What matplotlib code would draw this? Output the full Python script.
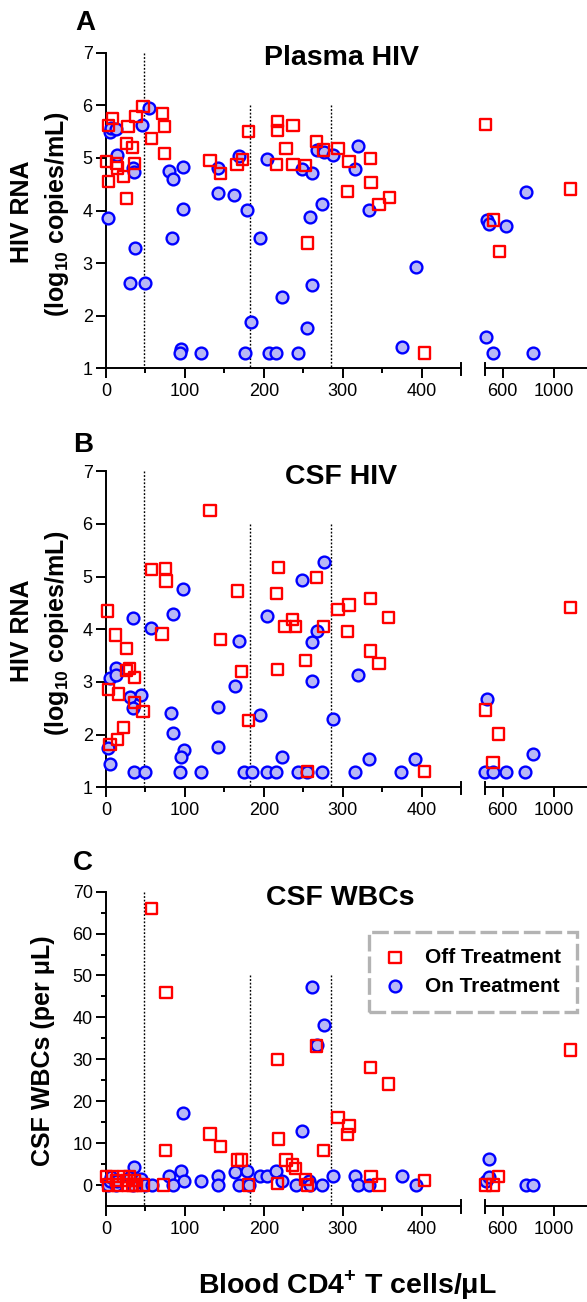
import matplotlib.pyplot as plt
import numpy as np
from matplotlib.ticker import NullLocator

plt.rcParams["font.family"] = ["Liberation Sans", "DejaVu Sans"]
plt.rcParams["mathtext.fontset"] = "custom"
plt.rcParams["mathtext.rm"] = "Liberation Sans"
plt.rcParams["mathtext.bf"] = "Liberation Sans:bold"

# A - plasma HIV RNA (log10 copies/mL) vs blood CD4
plasma_off_cd4 = [0.5, 3, 3, 8, 13, 15, 22, 26, 26, 28, 34, 36, 38, 47, 58, 72, 74, 74,
                  132, 145, 166, 173, 181, 217, 217, 228, 216, 237, 237, 253, 267, 276,
                  294, 308, 335, 306, 336, 346, 359, 255, 404, 506, 546, 579, 1190]
plasma_off_rna = [4.93, 5.62, 4.55, 5.75, 4.90, 4.81, 4.64, 5.28, 4.23, 5.59, 5.20, 4.90,
                  5.78, 5.97, 5.37, 5.85, 5.59, 5.09, 4.95, 4.71, 4.87, 4.97, 5.50, 5.69,
                  5.52, 5.18, 4.87, 5.61, 4.87, 4.85, 5.31, 5.15, 5.18, 4.93, 4.99, 4.36,
                  4.53, 4.12, 4.25, 3.38, 1.29, 5.64, 3.82, 3.22, 4.41]
plasma_on_cd4 = [2.5, 5, 6, 13, 14, 30, 34, 36, 37, 45, 50, 55, 80, 85, 84, 98, 98, 95, 94,
                 121, 142, 142, 162, 169, 179, 176, 184, 195, 204, 206, 216, 223, 243, 248,
                 261, 267, 276, 288, 319, 315, 274, 258, 333, 261, 255, 375, 393, 506, 546,
                 811, 512, 524, 618, 756]
plasma_on_rna = [3.85, 5.50, 5.56, 5.55, 5.06, 2.63, 4.80, 4.73, 3.28, 5.63, 2.63, 5.94,
                 4.76, 4.60, 3.47, 4.83, 4.02, 1.36, 1.30, 1.30, 4.80, 4.34, 4.30, 5.04,
                 4.01, 1.30, 1.89, 3.47, 4.97, 1.30, 1.30, 2.35, 1.30, 4.78, 4.71, 5.15,
                 5.12, 5.06, 5.23, 4.78, 4.12, 3.87, 4.01, 2.58, 1.76, 1.41, 2.93, 1.59,
                 1.30, 1.30, 3.81, 3.74, 3.71, 4.35]

# B - CSF HIV RNA (log10 copies/mL)
csf_off_cd4 = [2, 12, 26, 26, 30, 36, 3, 16, 36, 47, 22, 15, 5, 58, 75, 76, 71, 132, 145,
               167, 172, 181, 219, 216, 217, 227, 236, 240, 267, 276, 253, 294, 308, 335,
               358, 306, 335, 346, 255, 404, 504, 576, 544, 1190]
csf_off_rna = [4.35, 3.89, 3.63, 3.22, 3.25, 3.09, 2.86, 2.77, 2.61, 2.44, 2.14, 1.91,
               1.82, 5.14, 5.16, 4.92, 3.91, 6.25, 3.81, 4.73, 3.20, 2.27, 5.18, 4.68,
               3.24, 4.05, 4.18, 4.05, 4.99, 4.06, 3.41, 4.38, 4.46, 4.59, 4.23, 3.96,
               3.59, 3.35, 1.30, 1.30, 2.47, 2.01, 1.47, 4.42]
csf_on_cd4 = [3, 5, 5, 13, 13, 30, 34, 34, 36, 44, 50, 57, 85, 98, 82, 85, 99, 95, 94, 121,
              142, 142, 163, 169, 175, 185, 195, 204, 204, 216, 223, 243, 248, 255, 261,
              261, 268, 274, 276, 288, 315, 319, 333, 374, 392, 500, 512, 546, 618, 753, 811]
csf_on_rna = [1.74, 1.44, 3.07, 3.26, 3.13, 2.72, 4.21, 2.50, 1.29, 2.75, 1.29, 4.02, 4.29,
              4.77, 2.42, 2.04, 1.71, 1.57, 1.29, 1.29, 2.52, 1.77, 2.92, 3.77, 1.29, 1.29,
              2.37, 4.26, 1.29, 1.29, 1.58, 1.29, 4.94, 1.29, 3.75, 3.01, 3.96, 1.29, 5.27,
              2.29, 1.29, 3.13, 1.53, 1.29, 1.53, 1.29, 2.67, 1.29, 1.29, 1.29, 1.63]

# C - CSF white cells (per uL)
wbc_off_cd4 = [1, 3, 8, 13, 15, 22, 26, 28, 30, 34, 36, 38, 47, 58, 76, 73, 75, 132, 145,
               167, 172, 181, 217, 219, 217, 228, 236, 240, 253, 255, 267, 276, 294, 306,
               308, 335, 358, 336, 346, 404, 504, 544, 576, 1190]
wbc_off_count = [2, 0, 2, 1, 0, 2, 1, 0, 2, 0, 1, 0, 0, 66, 46, 0, 8.2, 12.2, 9.2, 6.0, 6.0,
                 0, 30, 11, 0.3, 6.0, 4.8, 3.9, 1.3, 0, 33.2, 8.2, 16.2, 12, 14.1, 28.1,
                 24.1, 2.1, 0, 1.0, 0, 0, 2.1, 32.2]
wbc_on_cd4 = [3, 5, 6, 13, 14, 30, 34, 36, 44, 50, 58, 80, 85, 95, 98, 99, 121, 142, 142,
              163, 169, 179, 181, 195, 204, 216, 223, 241, 248, 257, 259, 261, 268, 274,
              276, 288, 315, 319, 333, 375, 393, 506, 520, 524, 756, 811]
wbc_on_count = [0, 1, 2, 0, 1, 2, 0, 4.4, 1.5, 0, 0, 2.2, 0, 3.3, 17.2, 1.0, 1.0, 2.2, 0,
                3.1, 0, 3.3, 0, 2.2, 2.2, 3.3, 1.0, 0, 13, 0.9, 0, 47.3, 33.5, 0, 38.2, 2.2,
                2.2, 0, 0, 2.2, 0, 1, 6.2, 2, 0, 0]

cutoffs = [48, 182, 285]

W, H = 587, 1302
fig = plt.figure(figsize=(W / 100, H / 100), dpi=100)

red = "#ff0000"
blue = "#0000ff"
lightblue = "#b8b8f5"


def box(x0, y0, x1, y1):
    # pixel box, origin top-left
    return fig.add_axes([x0 / W, 1 - y1 / H, (x1 - x0) / W, (y1 - y0) / H])


def ftext(x, y, s, **kw):
    fig.text(x / W, 1 - y / H, s, **kw)


def panel(top, bottom, ylim, yticks, off_x, off_y, on_x, on_y, line_tops, yminor=None):
    axl = box(106, top, 461, bottom)
    axr = box(484.6, top, 587, bottom)
    off_x, off_y = np.array(off_x), np.array(off_y)
    on_x, on_y = np.array(on_x), np.array(on_y)
    handles = None
    for ax, ko, kn in [(axl, off_x < 475, on_x < 475), (axr, off_x >= 475, on_x >= 475)]:
        ax.patch.set_visible(False)
        h_on = ax.scatter(on_x[kn], on_y[kn], s=72, marker="o", facecolor=lightblue,
                          edgecolor=blue, linewidth=1.7, clip_on=False, zorder=3,
                          label="On Treatment")
        h_off = ax.scatter(off_x[ko], off_y[ko], s=66, marker="s", facecolor="none",
                           edgecolor=red, linewidth=1.7, clip_on=False, zorder=4,
                           label="Off Treatment")
        if handles is None:
            handles = [h_off, h_on]
        ax.set_ylim(*ylim)
        ax.spines["top"].set_visible(False)
        ax.spines["right"].set_visible(False)
        ax.spines["bottom"].set_linewidth(1.4)
        ax.spines["left"].set_linewidth(1.4)
        ax.tick_params(which="major", direction="out", length=7.2, width=1.4, labelsize=13)
        ax.tick_params(which="minor", direction="out", length=3.6, width=1.4)
        ax.tick_params(axis="x", pad=3.5)
        ax.tick_params(axis="y", pad=2.4)

    axl.set_xlim(0, 450)
    axl.set_xticks([0, 100, 200, 300, 400])
    axl.set_xticks([50, 150, 250, 350], minor=True)
    axl.set_yticks(yticks)
    if yminor is not None:
        axl.set_yticks(yminor, minor=True)

    axr.set_xscale("log")
    axr.set_xlim(500, 1400)
    axr.set_xticks([600, 1000], ["600", "1000"])
    axr.xaxis.set_minor_locator(NullLocator())
    axr.spines["left"].set_visible(False)
    axr.tick_params(axis="y", left=False, labelleft=False)

    # axis break marks
    for ax, xb in [(axl, 450), (axr, 500)]:
        ax.plot([xb, xb], [-0.021, 0.018], transform=ax.get_xaxis_transform(),
                color="black", lw=1.4, clip_on=False)

    # CD4 cut-off lines
    for xc, yt in zip(cutoffs, line_tops):
        axl.plot([xc, xc], [yt, ylim[0]], color="black", lw=1.0,
                 linestyle=(0, (1.3, 1.3)), zorder=1)
    return axl, handles


panel(52.67, 368.33, (1, 7), range(1, 8), plasma_off_cd4, plasma_off_rna,
      plasma_on_cd4, plasma_on_rna, [7, 6, 6])
panel(471.33, 787.33, (1, 7), range(1, 8), csf_off_cd4, csf_off_rna,
      csf_on_cd4, csf_on_rna, [7, 6, 6])
axc, hs = panel(891.67, 1206, (-5, 70), range(0, 71, 10), wbc_off_cd4, wbc_off_count,
                wbc_on_cd4, wbc_on_count, [70, 50, 50], yminor=range(5, 70, 10))

# titles and labels
ftext(75, 23, "A", fontsize=20, fontweight="bold", va="center", ha="left")
ftext(342, 58, "Plasma HIV", fontsize=20.5, fontweight="bold", ha="center", va="center")
ftext(73, 445, "B", fontsize=20, fontweight="bold", va="center", ha="left")
ftext(341, 477, "CSF HIV", fontsize=20.5, fontweight="bold", ha="center", va="center")
ftext(73, 863, "C", fontsize=20, fontweight="bold", va="center", ha="left")
ftext(340, 898, "CSF WBCs", fontsize=20.5, fontweight="bold", ha="center", va="center")

for yc in [212, 631]:
    ftext(22.5, yc, "HIV RNA", fontsize=18, fontweight="bold", rotation=90,
          ha="center", va="center")
    ftext(57, yc + 2, r"(log$_{\mathbf{10}}$ copies/mL)", fontsize=18, fontweight="bold",
          rotation=90, ha="center", va="center")
ftext(43, 1051, "CSF WBCs (per μL)", fontsize=18, fontweight="bold", rotation=90,
      ha="center", va="center")
ftext(347, 1285, r"Blood CD4$^{\mathbf{+}}$ T cells/μL", fontsize=20.5, fontweight="bold",
      ha="center", va="center")

leg = fig.legend(handles=hs, loc="center", mode="expand",
                 bbox_to_anchor=(369 / W, 1 - 1011 / H, 208 / W, 78 / H),
                 bbox_transform=fig.transFigure, prop={"weight": "bold", "size": 15},
                 fancybox=False, borderpad=0.8, handlelength=0.9, handletextpad=1.0,
                 labelspacing=0.45, scatterpoints=1, borderaxespad=0)
fr = leg.get_frame()
fr.set_edgecolor("#a0a0a0")
fr.set_linewidth(2.4)
fr.set_linestyle((0, (5, 1.5)))

fig.savefig("out.png", dpi=100)
